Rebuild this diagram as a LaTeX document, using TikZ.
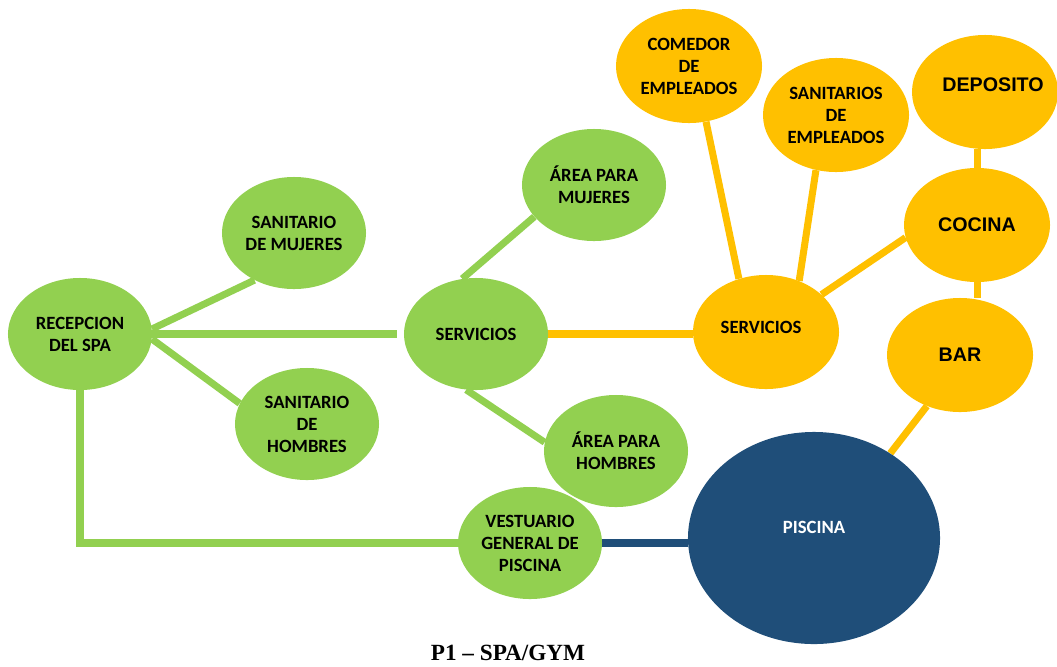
\documentclass[tikz,border=0pt]{standalone}
\usepackage{fontspec}
\setmainfont{Carlito}
\newfontfamily\arialfont{Liberation Sans}
\newfontfamily\timesfont{Liberation Serif}
\usetikzlibrary{shapes.geometric,backgrounds}
\definecolor{gr}{HTML}{92D050}
\definecolor{og}{HTML}{FFC000}
\definecolor{bl}{HTML}{1F4E79}
\begin{document}
\begin{tikzpicture}[x=0.025cm,y=-0.025cm,
  bub/.style={ellipse, inner sep=0pt, align=center, text=black,
    font=\bfseries\fontsize{13.3}{15.6}\selectfont},
  gbub/.style={bub, fill=gr, minimum width=3.6cm, minimum height=2.8cm},
  obub/.style={bub, fill=og, minimum width=3.65cm, minimum height=2.85cm},
  pbub/.style={bub, fill=bl, minimum width=6.3cm, minimum height=5.3cm},
  bigtxt/.style={font=\arialfont\bfseries\fontsize{14}{17}\selectfont, text=black},
  wtxt/.style={font=\bfseries\fontsize{13.3}{15.6}\selectfont, text=white},
  gl/.style={draw=gr, line width=5pt},
  ol/.style={draw=og, line width=5pt},
  bll/.style={draw=bl, line width=5pt}]
\useasboundingbox (0,0) rectangle (1057,666);
% green nodes
\node[gbub] (recep) at (80,334) {RECEPCION\\DEL SPA};
\node[gbub] (sanm) at (294,233) {SANITARIO\\DE MUJERES};
\node[gbub] (sanh) at (307,424) {SANITARIO\\DE\\HOMBRES};
\node[gbub] (servg) at (476,334) {SERVICIOS};
\node[gbub] (aream) at (594,185) {ÁREA PARA\\MUJERES};
\node[gbub] (areah) at (616,451) {ÁREA PARA\\HOMBRES};
\node[gbub] (vest) at (530,543) {VESTUARIO\\GENERAL DE\\PISCINA};
% orange nodes
\node[obub] (come) at (689,66) {COMEDOR\\DE\\EMPLEADOS};
\node[obub] (sane) at (836,115) {SANITARIOS\\DE\\EMPLEADOS};
\node[obub] (dep) at (985,92) {};
\node[bigtxt] (deptxt) at ([shift={(8,-7)}]dep.center) {DEPOSITO};
\node[obub, bigtxt] (coc) at (977,225) {COCINA};
\node[obub, bigtxt] (bar) at (960,355) {BAR};
\node[obub] (servo) at (766,332) {};
\node[bub] (servotxt) at ([shift={(-5,-5)}]servo.center) {SERVICIOS};
% pool
\node[pbub] (pisc) at (814,538) {};
\node[wtxt] (pisctxt) at ([shift={(0,-11)}]pisc.center) {PISCINA};
% title
\node[font=\timesfont\bfseries\fontsize{16.5}{19}\selectfont, anchor=base] (title) at (508,660) {P1 – SPA/GYM};
% connectors
\begin{scope}[on background layer]
\draw[gl] (recep.4) -- (sanm.230);
\draw[gl, shorten >=5pt] (recep.east) -- (recep.east -| servg.west);
\draw[gl] (recep.-4) -- (sanh.163);
\draw[gl] (servg.104) -- (aream.208);
\draw[gl] (servg.260) -- (areah.173);
\draw[gl] (recep.south) |- (vest.west);
\draw[ol] (servg.east) -- (servg.east -| servo.west);
\draw[ol] (come.287) -- (servo.117);
\draw[ol] (sane.250) -- (servo.57);
\draw[ol] (servo.34) -- (coc.190);
\draw[ol] (coc.north) -- (coc.north |- dep.south);
\draw[ol] (coc.south) -- (coc.south |- bar.north);
\draw[ol] (bar.237) -- (pisc.48);
\draw[bll] (vest.east) -- (vest.east -| pisc.west);
\end{scope}
\end{tikzpicture}
\end{document}
